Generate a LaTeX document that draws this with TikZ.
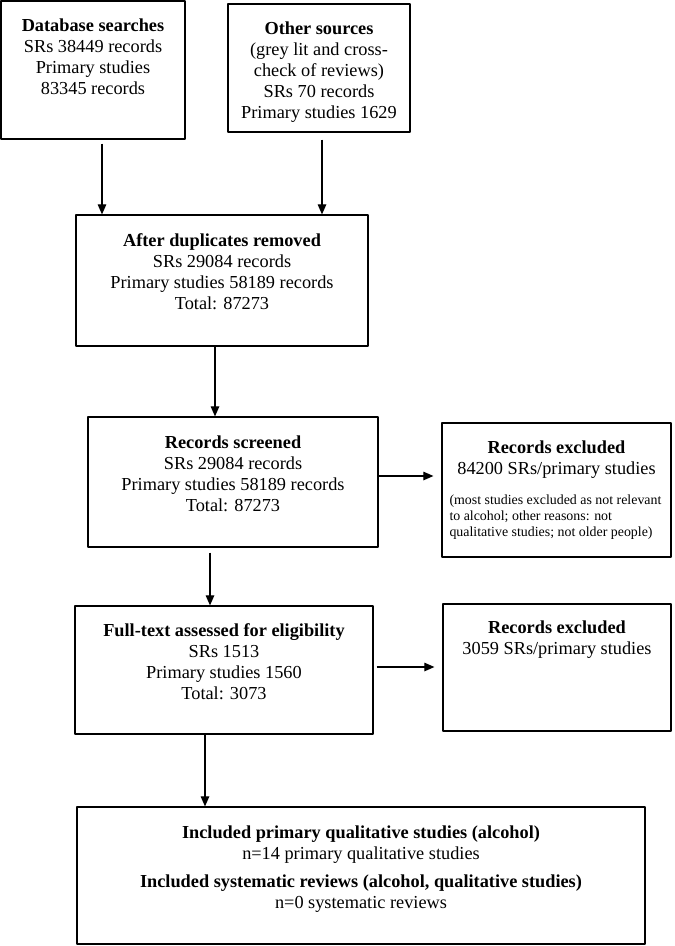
\documentclass[tikz,border=0pt]{standalone}
\usepackage{fontspec}
\setmainfont{Liberation Serif}
\usetikzlibrary{positioning,arrows.meta}
\newcommand\notesize{\fontsize{13.9}{16}\selectfont}
\begin{document}
\begin{tikzpicture}[x=1pt, y=-1pt, line join=round, >={Triangle[length=10pt,width=8.5pt]},
		box/.style={draw, line width=1.2pt, inner sep=0pt},
		txt/.style={align=center, inner sep=0pt, font=\fontsize{18.3}{21}\selectfont},
		conn/.style={->, line width=1.1pt}]
	\useasboundingbox (0,0) rectangle (675,946);
	% boxes
	\node[box, minimum width=184pt, minimum height=138pt] (db) at (93,70) {};
	\node[box, minimum width=182pt, minimum height=128pt] (other) at (319,68) {};
	\node[box, minimum width=292pt, minimum height=131pt] (dup) at (222,280.5) {};
	\node[box, minimum width=290pt, minimum height=130pt] (screen) at (233,482) {};
	\node[box, minimum width=229pt, minimum height=134pt] (excla) at (556.5,490) {};
	\node[box, minimum width=298pt, minimum height=128pt] (full) at (224,670) {};
	\node[box, minimum width=228pt, minimum height=127pt] (exclb) at (557,667.5) {};
	\node[box, minimum width=568pt, minimum height=137pt] (incl) at (361,875.5) {};
	% texts
	\node[txt, below=18pt of db.north] {\textbf{Database searches}\\SRs 38449 records\\Primary studies\\83345 records};
	\node[txt, below=18pt of other.north] {\textbf{Other sources}\\(grey lit and cross-\\check of reviews)\\SRs 70 records\\Primary studies 1629};
	\node[txt, below=19pt of dup.north] {\textbf{After duplicates removed}\\SRs 29084 records\\Primary studies 58189 records\\Total: 87273};
	\node[txt, below=19pt of screen.north] {\textbf{Records screened}\\SRs 29084 records\\Primary studies 58189 records\\Total: 87273};
	\node[txt, below=18pt of excla.north] {\textbf{Records excluded}\\84200 SRs/primary studies\\[9pt]
		\parbox[t]{214pt}{\notesize\raggedright (most studies excluded as not relevant\\to alcohol; other reasons: not\\qualitative studies; not older people)}};
	\node[txt, below=18pt of full.north] {\textbf{Full-text assessed for eligibility}\\SRs 1513\\Primary studies 1560\\Total: 3073};
	\node[txt, below=17pt of exclb.north] {\textbf{Records excluded}\\3059 SRs/primary studies};
	\node[txt, below=19pt of incl.north] {\textbf{Included primary qualitative studies (alcohol)}\\n=14 primary qualitative studies\\[7pt]
		\textbf{Included systematic reviews (alcohol, qualitative studies)}\\n=0 systematic reviews};
	% arrows
	\draw[conn] ([xshift=9pt,yshift=-4pt]db.south) -- ([xshift=9pt]db.south |- dup.north);
	\draw[conn] ([xshift=3pt,yshift=-7pt]other.south) -- ([xshift=3pt]other.south |- dup.north);
	\draw[conn] ([xshift=-7pt]dup.south) -- ([xshift=-7pt]dup.south |- screen.north);
	\draw[conn] ([xshift=-23pt,yshift=-5pt]screen.south) -- ([xshift=-23pt]screen.south |- full.north);
	\draw[conn] ([xshift=-19pt]full.south) -- ([xshift=-19pt]full.south |- incl.north);
	\draw[conn, shorten >=8pt] ([yshift=6pt]screen.east) -- ([yshift=6pt]screen.east -| excla.west);
	\draw[conn, shorten >=8pt] ([xshift=3pt,yshift=3pt]full.east) -- ([yshift=3pt]full.east -| exclb.west);
\end{tikzpicture}
\end{document}
